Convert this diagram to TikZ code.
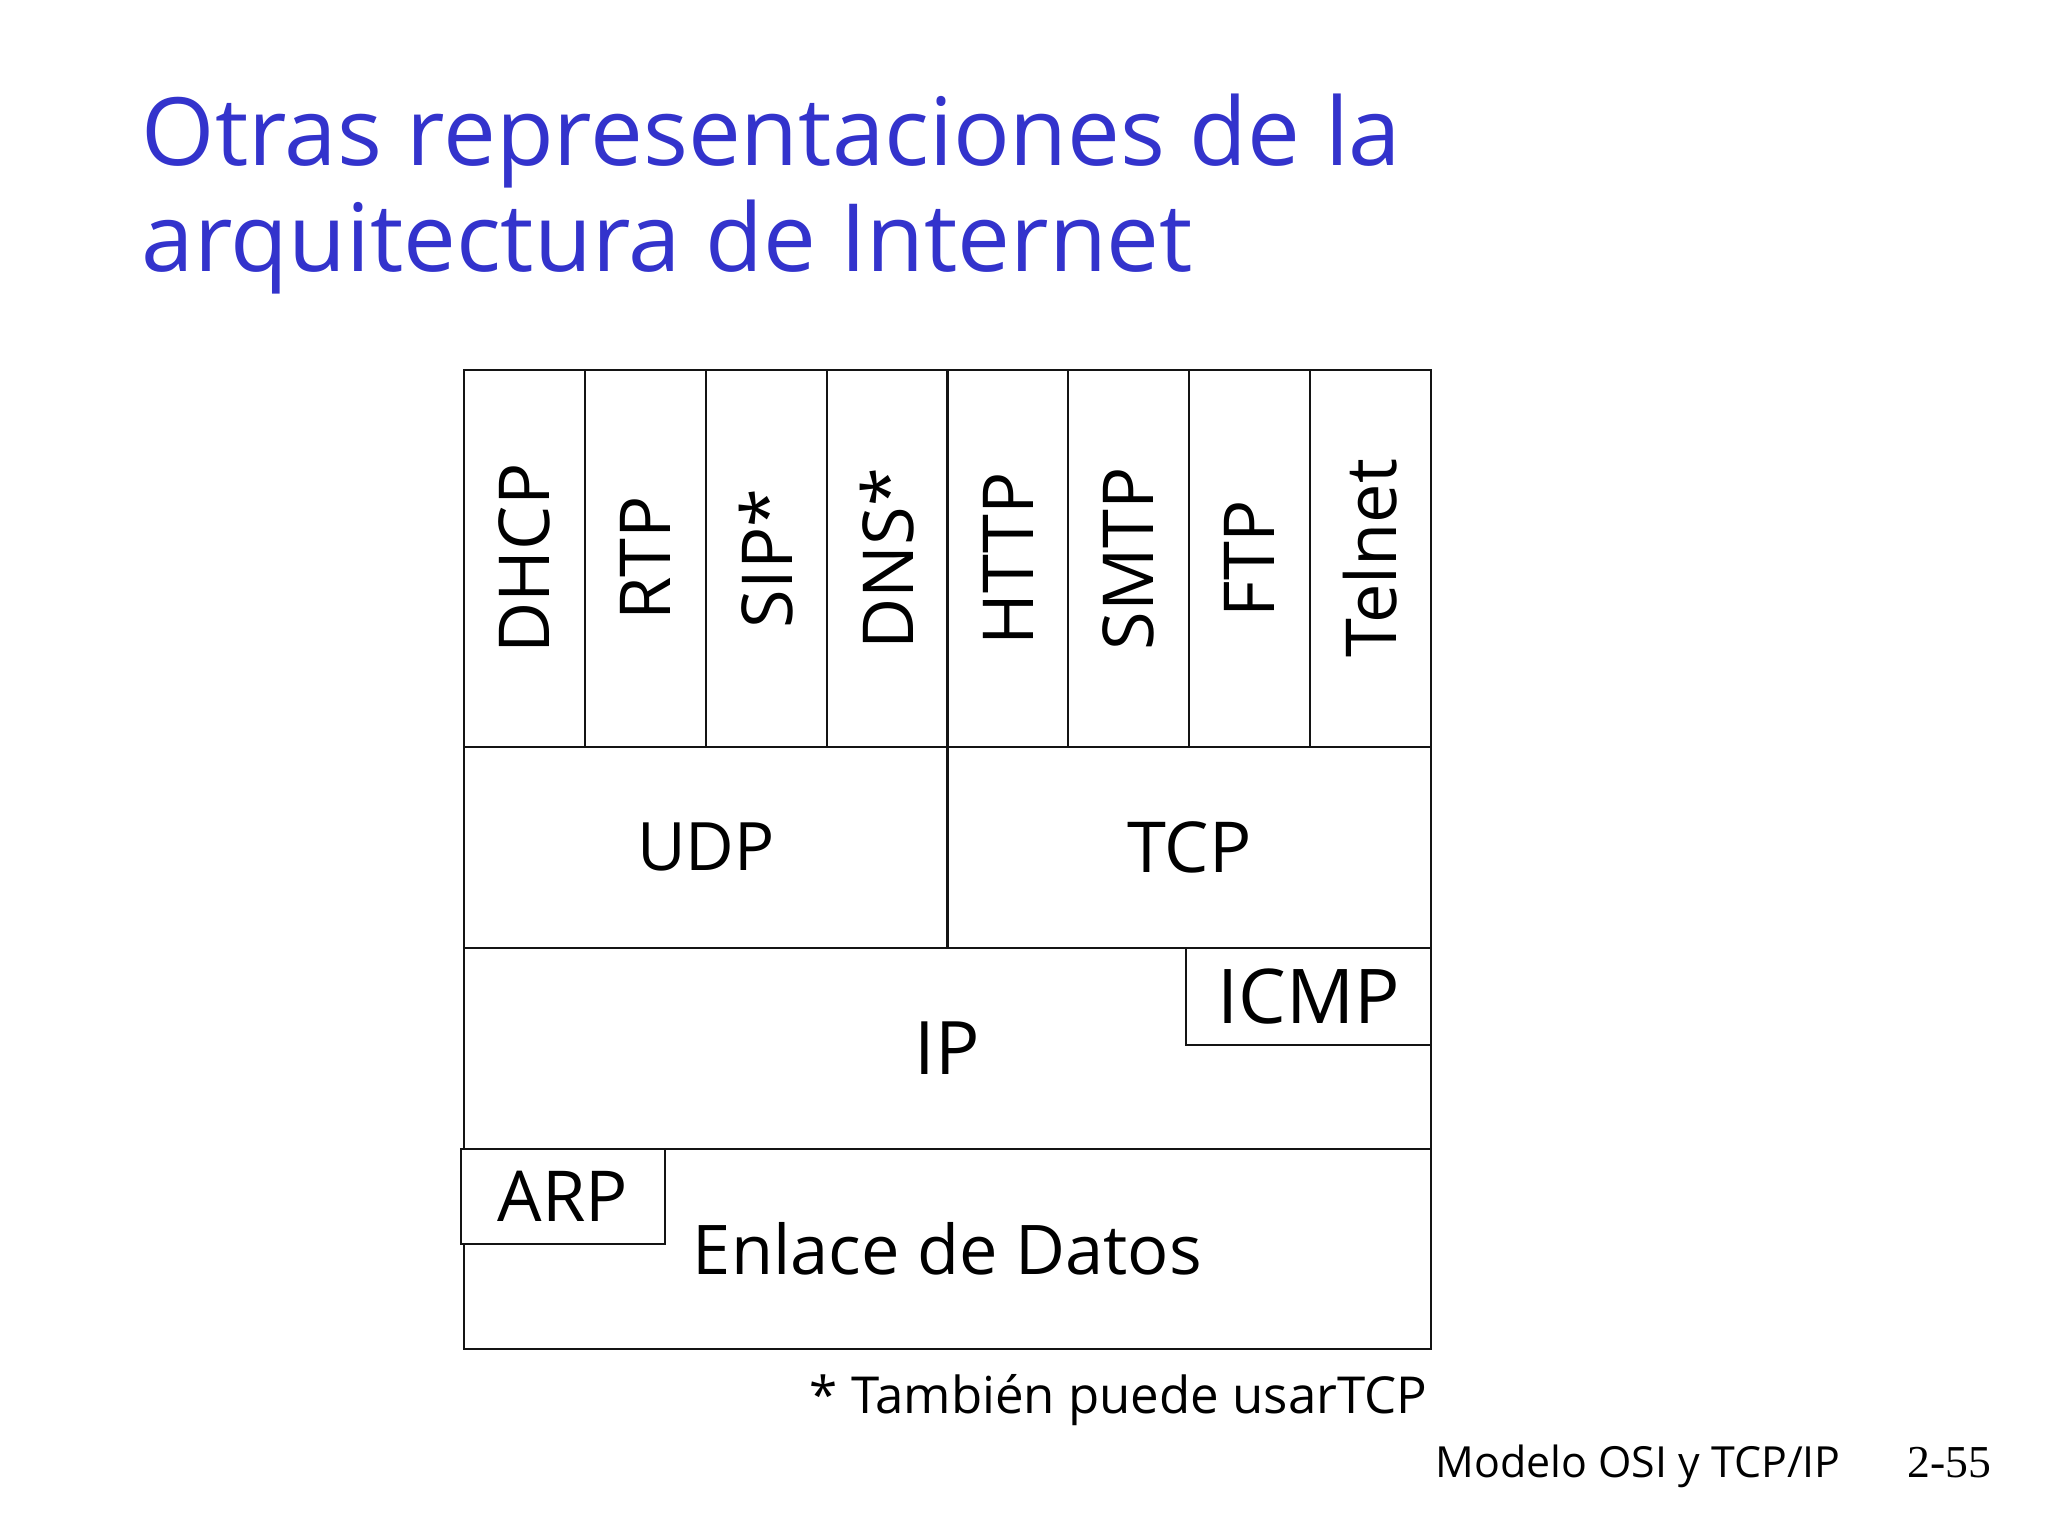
\documentclass[tikz,border=0pt]{standalone}
\usepackage{fontspec}
\setmainfont{Open Sans}
\newfontfamily\pagefont{Liberation Serif}
\usepackage{xcolor}
\definecolor{titleBlue}{HTML}{3333CC}
\definecolor{lineDark}{HTML}{141414}
\usetikzlibrary{positioning,calc}
\tikzset{
  layerBox/.style={
    rectangle,
    draw=lineDark,
    line width=0.6pt,
    fill=white,
    inner sep=0pt,
    outer sep=0pt,
    align=center,
    font=\fontsize{20}{24}\selectfont
 },
  appBox/.style={
    layerBox,
    rotate=90,
    minimum width=3.77cm,
    minimum height=1.20875cm,
    font=\fontsize{20}{24}\selectfont
 },
  titleText/.style={
    anchor=base west,
    inner sep=0pt,
    text=titleBlue,
    font=\fontsize{26.8}{32}\selectfont
 }
}

\begin{document}
\begin{tikzpicture}
            \useasboundingbox[fill=white] (0,0) rectangle (20.48,15.36);

            % title
            \node[titleText] (title1) at (1.41,13.70) {Otras representaciones de la};
            \node[titleText] (title2) at (1.41,12.64) {arquitectura de Internet};

            % application layer
            \foreach \name/\txt [count=\i] in {dhcp/DHCP, rtp/RTP, sip/SIP*, dns/DNS*, http/HTTP, smtp/SMTP, ftp/FTP, telnet/Telnet}
              \node[appBox] (\name) at ({4.64+(\i-0.5)*1.20875},9.775) {\txt};

            % transport layer
            \node[layerBox, anchor=north west, minimum width=4.835cm, minimum height=2.01cm, font=\fontsize{19}{24}\selectfont] (udp) at (4.64,7.89) {UDP};
            \node[layerBox, anchor=north west, minimum width=4.835cm, minimum height=2.01cm] (tcp) at (udp.north east) {TCP};

            % network layer
            \node[layerBox, anchor=north west, minimum width=9.67cm, minimum height=2.01cm, font=\fontsize{21}{24}\selectfont] (ip) at (udp.south west) {IP};
            \node[layerBox, anchor=north east, minimum width=2.45cm, minimum height=0.97cm, font=\fontsize{21.5}{24}\selectfont] (icmp) at (ip.north east) {ICMP};

            % link layer
            \node[layerBox, anchor=north west, minimum width=9.67cm, minimum height=2.0cm, font=\fontsize{19.5}{24}\selectfont] (link) at (ip.south west) {Enlace de Datos};
            \node[layerBox, anchor=north west, minimum width=2.04cm, minimum height=0.95cm] (arp) at ([xshift=-0.03cm]link.north west) {ARP};

            % notes
            \node[anchor=base east, inner sep=0pt, font=\fontsize{14.5}{18}\selectfont] (note) at (14.28,1.22) {* También puede usarTCP};
            \node[anchor=base west, inner sep=0pt, font=\fontsize{12.2}{15}\selectfont] (footer) at (14.35,0.58) {Modelo OSI y TCP/IP};
            \node[anchor=base west, inner sep=0pt, font=\pagefont\fontsize{13}{15}\selectfont] (page) at (19.07,0.58) {2-55};
        \end{tikzpicture}
\end{document}
